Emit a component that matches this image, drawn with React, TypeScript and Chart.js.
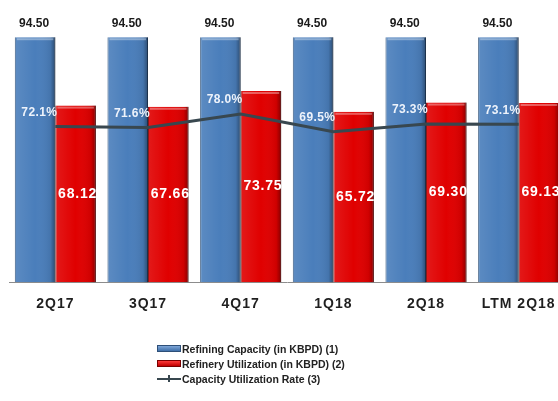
import React, { useEffect, useRef } from "react";
import { Chart, registerables } from "chart.js";

Chart.register(...registerables);

const categories = ["2Q17", "3Q17", "4Q17", "1Q18", "2Q18", "LTM 2Q18"];
const refiningCapacity = [94.5, 94.5, 94.5, 94.5, 94.5, 94.5];
const refineryUtilization = [68.12, 67.66, 73.75, 65.72, 69.3, 69.13];
const capacityUtilizationRate = [72.1, 71.6, 78.0, 69.5, 73.3, 73.1];
const seriesNames = [
  "Refining Capacity (in KBPD) (1)",
  "Refinery Utilization (in KBPD) (2)",
  "Capacity Utilization Rate (3)",
];

const FONT = "'Liberation Sans', Arial, sans-serif";
const BLUE = "#4a7ebb";
const RED = "#e00000";
const LINE = "#38474f";

const shadePlugin = {
  id: "barShade",
  beforeDraw(chart: any) {
    (chart.ctx as any).letterSpacing = "1px";
  },
  beforeDatasetsDraw(chart: any) {
    (chart.ctx as any).letterSpacing = "0px";
  },
  afterDatasetDraw(chart: any, args: any) {
    const ds = chart.data.datasets[args.index];
    if (ds.type === "line") return;
    const ctx = chart.ctx;
    args.meta.data.forEach((el: any) => {
      const { x, y, base, width } = el.getProps(["x", "y", "base", "width"], true);
      const left = x - width / 2;
      const g = ctx.createLinearGradient(left, 0, left + width, 0);
      g.addColorStop(0, "rgba(255,255,255,0.10)");
      g.addColorStop(0.5, "rgba(255,255,255,0)");
      g.addColorStop(0.88, "rgba(0,0,0,0.08)");
      g.addColorStop(1, "rgba(0,0,0,0.40)");
      ctx.save();
      ctx.fillStyle = g;
      ctx.fillRect(left, y, width, base - y);
      ctx.fillStyle = "rgba(255,255,255,0.35)";
      ctx.fillRect(left + 2, y + 1, width - 4, 2);
      ctx.restore();
    });
  },
};

const labelPlugin = {
  id: "valueLabels",
  afterDraw(chart: any) {
    const ctx = chart.ctx;
    ctx.save();
    (ctx as any).letterSpacing = "0px";
    ctx.textBaseline = "middle";
    // blue
    const m0 = chart.getDatasetMeta(0);
    ctx.font = `bold 12px ${FONT}`;
    ctx.fillStyle = "#1a1a1a";
    ctx.textAlign = "center";
    m0.data.forEach((el: any, i: number) => {
      ctx.fillText(refiningCapacity[i].toFixed(2), el.x - 1, el.y - 14);
    });
    // red
    const m1 = chart.getDatasetMeta(1);
    ctx.font = `bold 14px ${FONT}`;
    (ctx as any).letterSpacing = "0.8px";
    ctx.fillStyle = "#ffffff";
    m1.data.forEach((el: any, i: number) => {
      ctx.fillText(refineryUtilization[i].toFixed(2), el.x + 2, (el.y + el.base) / 2);
    });
    // percent
    const m2 = chart.getDatasetMeta(2);
    ctx.font = `bold 12px ${FONT}`;
    (ctx as any).letterSpacing = "0.4px";
    ctx.fillStyle = "#eef3fb";
    ctx.textAlign = "right";
    m2.data.forEach((el: any, i: number) => {
      ctx.fillText(capacityUtilizationRate[i].toFixed(1) + "%", el.x + 2, el.y - 14);
    });
    ctx.restore();
  },
};

export default function App() {
  const ref = useRef<HTMLCanvasElement>(null);
  useEffect(() => {
    if (!ref.current) return;
    const chart = new Chart(ref.current, {
      type: "bar",
      data: {
        labels: categories,
        datasets: [
          {
            type: "bar",
            label: seriesNames[0],
            data: refiningCapacity,
            backgroundColor: BLUE,
            borderColor: "#2d4f78",
            borderWidth: { left: 1, right: 1, top: 0, bottom: 0 },
            categoryPercentage: 0.875,
            barPercentage: 1,
            yAxisID: "y",
            order: 1,
          },
          {
            type: "bar",
            label: seriesNames[1],
            data: refineryUtilization,
            backgroundColor: RED,
            borderColor: "#7a0000",
            borderWidth: { left: 1, right: 1, top: 0, bottom: 0 },
            categoryPercentage: 0.875,
            barPercentage: 1,
            yAxisID: "y",
            order: 1,
          },
          {
            type: "line",
            label: seriesNames[2],
            data: capacityUtilizationRate,
            borderColor: LINE,
            backgroundColor: LINE,
            borderWidth: 3,
            pointRadius: 0,
            tension: 0,
            yAxisID: "y1",
            order: 0,
          },
        ] as any,
      },
      options: {
        animation: false,
        responsive: false,
        devicePixelRatio: 1,
        layout: { padding: { left: 9, right: 5, top: 10, bottom: 82 } },
        plugins: { legend: { display: false }, tooltip: { enabled: false } },
        scales: {
          x: {
            offset: true,
            grid: { display: false },
            border: { display: true, color: "#8c8c8c", width: 1 },
            ticks: {
              font: { family: FONT, size: 14, weight: "bold" },
              color: "#1f1f1f",
              padding: 6,
              maxRotation: 0,
              autoSkip: false,
            },
          },
          y: { display: false, min: 0, max: 105 },
          y1: { display: false, min: -2.7, max: 128 },
        },
      } as any,
      plugins: [shadePlugin, labelPlugin],
    });
    return () => chart.destroy();
  }, []);

  const row: React.CSSProperties = {
    display: "flex",
    alignItems: "center",
    height: 15,
    whiteSpace: "nowrap",
  };
  const text: React.CSSProperties = {
    font: `bold 10.5px ${FONT}`,
    color: "#222",
    marginLeft: 1,
  };
  return (
    <div
      style={{
        position: "fixed",
        left: 0,
        top: 0,
        width: 558,
        height: 401,
        overflow: "hidden",
        background: "#fff",
      }}
    >
      <canvas ref={ref} width={570} height={401} style={{ width: 570, height: 401, display: "block" }} />
      <div style={{ position: "absolute", left: 157, top: 341 }}>
        <div style={row}>
          <span
            style={{
              width: 22,
              height: 5,
              background: "linear-gradient(#7ea6d8, #3f6fa8)",
              border: "1px solid #2d4f78",
            }}
          />
          <span style={text}>{seriesNames[0]}</span>
        </div>
        <div style={row}>
          <span
            style={{
              width: 22,
              height: 5,
              background: "linear-gradient(#ff3a3a, #c00000)",
              border: "1px solid #7a0000",
            }}
          />
          <span style={text}>{seriesNames[1]}</span>
        </div>
        <div style={row}>
          <span style={{ position: "relative", width: 24, height: 7 }}>
            <span
              style={{ position: "absolute", left: 0, top: 2.5, width: 24, height: 2, background: LINE }}
            />
            <span
              style={{ position: "absolute", left: 11, top: 0, width: 2, height: 7, background: LINE }}
            />
          </span>
          <span style={text}>{seriesNames[2]}</span>
        </div>
      </div>
    </div>
  );
}
